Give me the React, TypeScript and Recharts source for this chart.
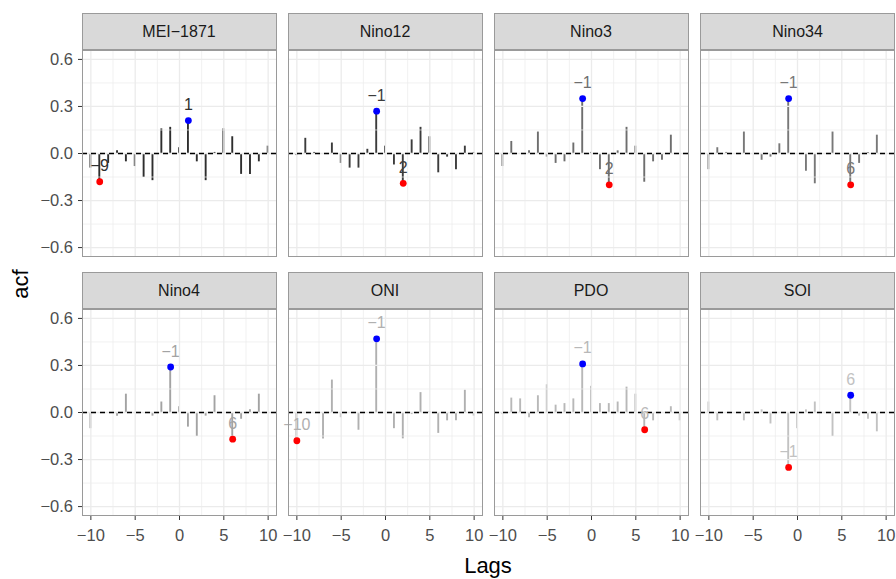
import React from 'react';
import {
  ComposedChart,
  XAxis,
  YAxis,
  Bar,
  Scatter,
  LabelList,
  ReferenceLine,
} from 'recharts';

const LAGS = [-10, -9, -8, -7, -6, -5, -4, -3, -2, -1, 0, 1, 2, 3, 4, 5, 6, 7, 8, 9, 10];

const MEI_1871 = [-0.09, -0.18, -0.06, 0.02, -0.05, -0.08, -0.15, -0.17, 0.16, 0.17, 0.04, 0.21, -0.05, -0.17, 0.01, 0.16, 0.11, -0.13, -0.13, -0.05, 0.05];
const NINO12 = [-0.01, 0.1, 0.01, 0.0, 0.07, -0.06, -0.09, -0.09, 0.03, 0.27, 0.05, -0.07, -0.19, 0.09, 0.17, 0.11, -0.12, -0.02, -0.1, 0.05, 0.01];
const NINO3 = [-0.08, 0.08, 0.0, 0.02, 0.14, -0.02, -0.06, -0.05, 0.07, 0.35, 0.01, -0.1, -0.2, 0.02, 0.17, 0.05, -0.18, -0.05, -0.04, 0.12, 0.0];
const NINO34 = [-0.1, 0.04, 0.01, 0.0, 0.14, 0.0, -0.04, -0.02, 0.065, 0.35, 0.0, -0.11, -0.19, 0.0, 0.14, 0.0, -0.2, -0.06, 0.01, 0.12, 0.0];
const NINO4 = [-0.1, 0.0, 0.0, -0.02, 0.12, 0.0, 0.0, -0.02, 0.07, 0.29, 0.04, -0.09, -0.15, -0.02, 0.11, 0.0, -0.17, -0.04, 0.02, 0.12, 0.0];
const ONI = [-0.18, 0.0, 0.0, -0.165, 0.21, -0.03, 0.0, -0.11, 0.0, 0.47, 0.0, -0.1, -0.165, -0.01, 0.13, 0.01, -0.13, -0.05, -0.05, 0.145, -0.02];
const PDO = [-0.01, 0.095, 0.09, -0.03, 0.11, 0.18, 0.05, 0.06, 0.09, 0.31, 0.17, 0.06, 0.06, 0.07, 0.165, 0.12, -0.11, -0.05, 0.0, 0.04, -0.05];
const SOI = [0.07, -0.05, 0.0, 0.0, -0.05, 0.0, 0.02, -0.07, 0.0, -0.35, -0.1, 0.02, 0.07, 0.0, -0.15, 0.0, 0.11, -0.02, -0.04, -0.12, 0.0];

const PANEL_NAMES = ['MEI−1871', 'Nino12', 'Nino3', 'Nino34', 'Nino4', 'ONI', 'PDO', 'SOI'];
const PANEL_VALUES = [MEI_1871, NINO12, NINO3, NINO34, NINO4, ONI, PDO, SOI];
const PANEL_TONES = ['#2e2e2e', '#3c3c3c', '#6e6e6e', '#787878', '#a3a3a3', '#b0b0b0', '#b8b8b8', '#c2c2c2'];

const X_TICKS = [-10, -5, 0, 5, 10];
const X_MINOR = [-7.5, -2.5, 2.5, 7.5];
const Y_TICKS = [-0.6, -0.3, 0, 0.3, 0.6];
const Y_MINOR = [-0.45, -0.15, 0.15, 0.45];

const PLOT_W = 195;
const PLOT_H = 207;
const Y_AXIS_W = 50;
const X_AXIS_H = 36;
const SIDE = 18;
const COL_LEFT = [81.5, 287.5, 493.5, 700];
const ROW_TOP = [50, 309];
const STRIP_H = 37;

const GRID = '#ebebeb';
const BORDER = '#9a9a9a';

const minus = (s: string) => s.replace('-', '−');
const fmtX = (v: number) => minus(String(v));
const fmtY = (v: number) => minus(v.toFixed(1));

const Stem = (props: any) => {
  const { x, y, width, height, tone } = props;
  const cx = x + width / 2;
  return <line x1={cx} x2={cx} y1={y} y2={y + height} stroke={tone} strokeWidth={1.9} />;
};

const Dot = (props: any) => {
  const { cx, cy, payload } = props;
  return <circle cx={cx} cy={cy} r={3.4} fill={payload.fill} />;
};

function Panel({ idx }: { idx: number }) {
  const values = PANEL_VALUES[idx];
  const tone = PANEL_TONES[idx];
  const col = idx % 4;
  const row = Math.floor(idx / 4);
  const data = LAGS.map((lag, i) => ({ lag, acf: values[i] }));

  let hi = 0;
  let lo = 0;
  values.forEach((v, i) => {
    if (v > values[hi]) hi = i;
    if (v < values[lo]) lo = i;
  });
  const marks = [
    { lag: LAGS[hi], acf: values[hi], label: fmtX(LAGS[hi]), fill: '#0000ff' },
    { lag: LAGS[lo], acf: values[lo], label: fmtX(LAGS[lo]), fill: '#ff0000' },
  ];

  const showY = col === 0;
  const showX = row === 1;
  const left = COL_LEFT[col];
  const top = ROW_TOP[row];
  const yw = showY ? Y_AXIS_W : 0;
  const w = PLOT_W + yw + SIDE * 2;
  const h = PLOT_H + (showX ? X_AXIS_H : 0);

  return (
    <>
      <div
        style={{
          position: 'absolute',
          left,
          top: top - STRIP_H,
          width: PLOT_W,
          height: STRIP_H,
          boxSizing: 'border-box',
          background: '#d9d9d9',
          border: `1px solid ${BORDER}`,
          display: 'flex',
          alignItems: 'center',
          justifyContent: 'center',
          fontSize: 16,
          color: '#1a1a1a',
        }}
      >
        {PANEL_NAMES[idx]}
      </div>
      <div style={{ position: 'absolute', left: left - yw - SIDE, top }}>
        <ComposedChart width={w} height={h} data={data} margin={{ top: 0, right: SIDE, bottom: 0, left: SIDE }}>
          <XAxis
            dataKey="lag"
            type="number"
            domain={[-11, 11]}
            ticks={X_TICKS}
            allowDataOverflow
            hide={!showX}
            height={X_AXIS_H}
            axisLine={false}
            tickSize={4}
            tickMargin={9}
            tickLine={{ stroke: '#333333' }}
            tick={{ fill: '#4d4d4d', fontSize: 16.5 }}
            tickFormatter={fmtX}
            interval={0}
          />
          <YAxis
            type="number"
            domain={[-0.66, 0.66]}
            ticks={Y_TICKS}
            allowDataOverflow
            hide={!showY}
            width={Y_AXIS_W}
            axisLine={false}
            tickSize={4}
            tickMargin={5}
            tickLine={{ stroke: '#333333' }}
            tick={{ fill: '#4d4d4d', fontSize: 16.5 }}
            tickFormatter={fmtY}
            interval={0}
          />
          {Y_MINOR.map((v) => (
            <ReferenceLine key={`ym${v}`} y={v} stroke={GRID} strokeWidth={0.7} />
          ))}
          {X_MINOR.map((v) => (
            <ReferenceLine key={`xm${v}`} x={v} stroke={GRID} strokeWidth={0.7} />
          ))}
          {Y_TICKS.map((v) => (
            <ReferenceLine key={`y${v}`} y={v} stroke={GRID} strokeWidth={1.3} />
          ))}
          {X_TICKS.map((v) => (
            <ReferenceLine key={`x${v}`} x={v} stroke={GRID} strokeWidth={1.3} />
          ))}
          <Bar
            dataKey="acf"
            barSize={2}
            isAnimationActive={false}
            shape={(p: any) => <Stem {...p} tone={tone} />}
          />
          <ReferenceLine y={0} stroke="#000000" strokeWidth={1.4} strokeDasharray="5 4" />
          <Scatter data={marks} dataKey="acf" isAnimationActive={false} shape={Dot}>
            <LabelList dataKey="label" position="top" offset={6} fill={tone} fontSize={16} />
          </Scatter>
        </ComposedChart>
      </div>
      <div
        style={{
          position: 'absolute',
          left,
          top,
          width: PLOT_W,
          height: PLOT_H,
          boxSizing: 'border-box',
          border: `1px solid ${BORDER}`,
          pointerEvents: 'none',
        }}
      />
    </>
  );
}

export default function App() {
  return (
    <div
      style={{
        position: 'absolute',
        left: 0,
        top: 0,
        width: 896,
        height: 579,
        background: '#ffffff',
        fontFamily: '"Liberation Sans", Arial, sans-serif',
        overflow: 'hidden',
      }}
    >
      {PANEL_NAMES.map((_, i) => (
        <Panel key={i} idx={i} />
      ))}
      <div
        style={{
          position: 'absolute',
          left: 21,
          top: 284,
          transform: 'translate(-50%, -50%) rotate(-90deg)',
          fontSize: 22,
          color: '#000000',
        }}
      >
        acf
      </div>
      <div
        style={{
          position: 'absolute',
          left: 488,
          top: 566,
          transform: 'translate(-50%, -50%)',
          fontSize: 22,
          color: '#000000',
        }}
      >
        Lags
      </div>
    </div>
  );
}
